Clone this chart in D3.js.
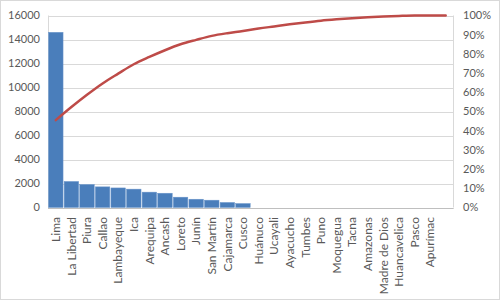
<!DOCTYPE html>
<html>
<head>
<meta charset="utf-8">
<script src="https://cdn.jsdelivr.net/npm/d3@7"></script>
<style>
  body { margin: 0; background: #fff; }
  svg { display: block; font-family: Lato, "Open Sans", sans-serif; }
</style>
</head>
<body>
<div id="chart"></div>
<script>
// regions, sorted by count (last slot is empty in the original)
const regions = ["Lima", "La Libertad", "Piura", "Callao", "Lambayeque", "Ica", "Arequipa",
  "Ancash", "Loreto", "Junín", "San Martín", "Cajamarca", "Cusco", "Huánuco", "Ucayali",
  "Ayacucho", "Tumbes", "Puno", "Moquegua", "Tacna", "Amazonas", "Madre de Dios",
  "Huancavelica", "Pasco", "Apurímac", ""];

// bar values (only the first 13 are drawn in the picture)
const counts = [14600, 2170, 1920, 1720, 1630, 1530, 1280, 1190, 860, 690, 610, 420, 330,
  0, 0, 0, 0, 0, 0, 0, 0, 0, 0, 0, 0, 0];

// cumulative share
const cumPct = [45.5, 52.3, 58.7, 64.6, 69.7, 74.6, 78.4, 81.9, 85.0, 87.3, 89.4, 90.8, 91.9,
  93.2, 94.3, 95.4, 96.4, 97.3, 98.0, 98.6, 99.1, 99.5, 99.8, 100, 100, 100];

const leftTicks = [0, 2000, 4000, 6000, 8000, 10000, 12000, 14000, 16000];
const rightTicks = [0, .1, .2, .3, .4, .5, .6, .7, .8, .9, 1];

const W = 500, H = 300;
const m = {left: 48, right: 453.5, top: 15.5, bottom: 207.5};

const svg = d3.select("#chart").append("svg")
  .attr("width", W).attr("height", H);

// chart border
svg.append("rect")
  .attr("x", 0.5).attr("y", 0.5).attr("width", W - 1).attr("height", H - 1)
  .attr("fill", "#fff").attr("stroke", "#d9d9d9");

const x = d3.scaleBand().domain(regions).range([m.left, m.right]).paddingInner(0.07).paddingOuter(0.035);
const xc = d3.scaleBand().domain(regions).range([m.left, m.right]);
const y = d3.scaleLinear().domain([0, 16000]).range([m.bottom, m.top]);
const y2 = d3.scaleLinear().domain([0, 1]).range([m.bottom, m.top]);

// gridlines
svg.append("g")
  .selectAll("line")
  .data(leftTicks)
  .join("line")
  .attr("x1", m.left).attr("x2", m.right)
  .attr("y1", d => Math.round(y(d)) + 0.5).attr("y2", d => Math.round(y(d)) + 0.5)
  .attr("stroke", "#d9d9d9").attr("stroke-width", 1);

// plot area sides
svg.append("line").attr("x1", m.left + 0.5).attr("x2", m.left + 0.5)
  .attr("y1", m.top).attr("y2", m.bottom).attr("stroke", "#d9d9d9");
svg.append("line").attr("x1", m.right).attr("x2", m.right)
  .attr("y1", m.top).attr("y2", m.bottom).attr("stroke", "#d9d9d9");

// bars
svg.append("g")
  .selectAll("rect")
  .data(regions.map((r, i) => ({r, v: counts[i]})).filter(d => d.v > 0))
  .join("rect")
  .attr("x", d => x(d.r))
  .attr("width", x.bandwidth())
  .attr("y", d => y(d.v))
  .attr("height", d => y(0) - y(d.v))
  .attr("fill", "#4a7ebb")
  .attr("stroke", "#6d97cc").attr("stroke-width", 0.5);

// bottom axis line
svg.append("line").attr("x1", m.left).attr("x2", m.right)
  .attr("y1", Math.round(y(0)) + 0.5).attr("y2", Math.round(y(0)) + 0.5)
  .attr("stroke", "#bfbfbf");

// cumulative line
const line = d3.line()
  .x((d, i) => xc(regions[i]) + xc.bandwidth() / 2)
  .y(d => y2(d / 100))
  .curve(d3.curveMonotoneX);

svg.append("path")
  .datum(cumPct)
  .attr("d", line)
  .attr("fill", "none")
  .attr("stroke", "#be4b48")
  .attr("stroke-width", 2.5)
  .attr("stroke-linecap", "round");

// left axis labels
svg.append("g")
  .selectAll("text")
  .data(leftTicks)
  .join("text")
  .attr("x", 40).attr("y", d => y(d))
  .attr("dy", "0.35em")
  .attr("text-anchor", "end")
  .attr("font-size", 11).attr("fill", "#595959")
  .text(d => d);

// right axis labels
svg.append("g")
  .selectAll("text")
  .data(rightTicks)
  .join("text")
  .attr("x", 463).attr("y", d => y2(d))
  .attr("dy", "0.35em")
  .attr("font-size", 11).attr("fill", "#595959")
  .text(d3.format(".0%"));

// category labels, rotated
svg.append("g")
  .selectAll("text")
  .data(regions)
  .join("text")
  .attr("transform", d => `translate(${xc(d) + xc.bandwidth() / 2},217) rotate(-90)`)
  .attr("dy", "0.35em")
  .attr("text-anchor", "end")
  .attr("font-size", 12).attr("fill", "#595959")
  .text(d => d);
</script>
</body>
</html>
